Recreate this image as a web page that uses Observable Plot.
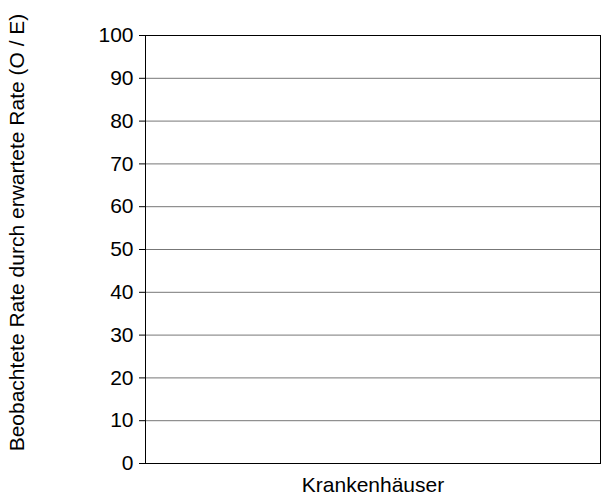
<!DOCTYPE html>
<html><head><meta charset="utf-8">
<script src="https://cdn.jsdelivr.net/npm/d3@7"></script>
<script src="https://cdn.jsdelivr.net/npm/@observablehq/plot@0.6"></script>
<style>body{margin:0;background:#fff}</style>
</head><body><div id="c"></div>
<script>
const hospitals = [];
const oeValues = [];
const yTicks = [0,10,20,30,40,50,60,70,80,90,100];
const yLabel = "Beobachtete Rate durch erwartete Rate (O / E)";
const xLabel = "Krankenhäuser";

const chart = Plot.plot({
  width: 615, height: 498,
  marginLeft: 145, marginRight: 15, marginTop: 35, marginBottom: 35,
  style: {fontFamily: "Liberation Sans, Arial, sans-serif", fontSize: "16px", color: "#000", background: "#fff"},
  x: {domain: [0, 1]},
  y: {domain: [0, 100]},
  marks: [
    Plot.ruleY(yTicks.filter(d => d > 0 && d < 100), {stroke: "#777", strokeWidth: 1, strokeOpacity: 1}),
    Plot.frame({stroke: "#000", strokeWidth: 1}),
    Plot.dot(hospitals.map((h, i) => ({h: i, v: oeValues[i]})), {x: "h", y: "v"}),
    Plot.axisY({ticks: yTicks, tickSize: 6, tickPadding: 6, label: null, fontSize: 21}),
    Plot.axisX({ticks: [], label: null}),
    Plot.text([xLabel], {frameAnchor: "bottom", dy: 28, fontSize: 21, text: d => d}),
    Plot.text([yLabel], {frameAnchor: "left", dx: -128, dy: -17, rotate: -90, textAnchor: "middle", fontSize: 21, text: d => d})
  ]
});
document.getElementById("c").append(chart);
</script></body></html>
